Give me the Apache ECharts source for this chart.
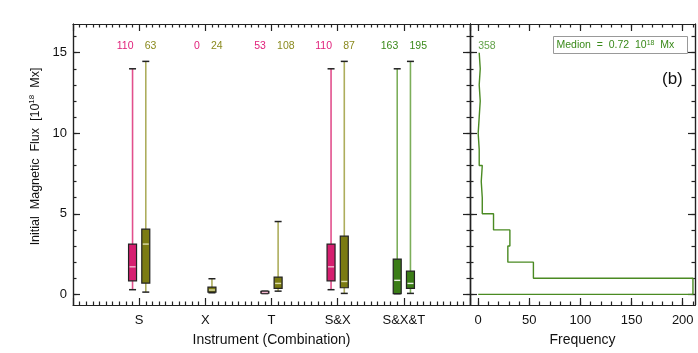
<!DOCTYPE html>
<html>
<head>
<meta charset="utf-8">
<script src="https://cdn.jsdelivr.net/npm/echarts@6/dist/echarts.min.js"></script>
<style>
  html, body { margin: 0; padding: 0; background: #fff; }
  #main { width: 698px; height: 353px; }
</style>
</head>
<body>
<div id="main"></div>
<script>
// data
var categories = ['S', 'X', 'T', 'S&X', 'S&X&T'];
// [low, q1, median, q3, high], null = no box
var firstStats = [
    [0.29, 0.84, 1.71, 3.12, 14.0],
    null,
    [0.05, 0.08, 0.12, 0.18, 0.2],
    [0.29, 0.84, 1.71, 3.12, 14.0],
    [0.04, 0.04, 0.87, 2.19, 14.0]
];
var secondStats = [
    [0.14, 0.70, 3.12, 4.05, 14.46],
    [0.1, 0.14, 0.27, 0.45, 0.97],
    [0.2, 0.37, 0.68, 1.07, 4.52],
    [0.06, 0.41, 0.80, 3.61, 14.46],
    [0.06, 0.37, 0.68, 1.44, 14.46]
];
var firstCounts = [110, 0, 53, 110, 163];
var secondCounts = [63, 24, 108, 87, 195];

// histogram of flux, bins of 1 (0-1, 1-2, ... 14-15)
var binCounts = [210, 54, 29, 31, 15, 4, 3, 4, 1, 0, 1, 2, 1, 2, 1];
var totalCount = 358;
var medianFlux = 0.72;

var fluxMajorTicks = [0, 5, 10, 15];
var fluxMinorTicks = [0, 1, 2, 3, 4, 5, 6, 7, 8, 9, 10, 11, 12, 13, 14, 15, 16];
var freqMajorTicks = [0, 50, 100, 150, 200];
var freqMinorTicks = [0, 10, 20, 30, 40, 50, 60, 70, 80, 90, 100, 110, 120, 130, 140, 150, 160, 170, 180, 190, 200, 210];

var yMin = -0.66, yMax = 16.78;
var countLabelY = 15.4;

var colPink = { fill: '#d61f70', whisk: '#e2508c', text: '#e0207a', med: '#f2b8cf' };
var colOlive = { fill: '#7b7b12', whisk: '#adad5c', text: '#8a8a1e', med: '#dcdcaa' };
var colGreen = { fill: '#3b7d17', whisk: '#7cae5a', text: '#3a8a1a', med: '#e8f0e0' };

function boxData(stats, counts, offset) {
    return categories.map(function (c, i) {
        var s = stats[i] || ['-', '-', '-', '-', '-'];
        return [i + 1 + offset, s[0], s[1], s[2], s[3], s[4], counts[i]];
    });
}

function makeRender(isFirst) {
    return function (params, api) {
        var idx = params.dataIndex;
        var col = idx === 4 ? colGreen : (isFirst ? colPink : colOlive);
        var x = api.value(0);
        var children = [];
        var lp = api.coord([x, countLabelY]);
        children.push({
            type: 'text',
            style: {
                x: lp[0] + (isFirst ? 1 : -1), y: lp[1],
                text: String(api.value(6)),
                fill: col.text,
                font: '10.5px "Liberation Sans", Arial, sans-serif',
                align: isFirst ? 'right' : 'left',
                verticalAlign: 'middle'
            }
        });
        var low = api.value(1);
        if (isNaN(low)) return { type: 'group', children: children };
        var pLow = api.coord([x, low]);
        var pQ1 = api.coord([x, api.value(2)]);
        var pMed = api.coord([x, api.value(3)]);
        var pQ3 = api.coord([x, api.value(4)]);
        var pHigh = api.coord([x, api.value(5)]);
        var cx = pLow[0];
        var hw = 4, cw = 3.5;
        children.push({
            type: 'line',
            shape: { x1: cx, y1: pHigh[1], x2: cx, y2: pLow[1] },
            style: { stroke: col.whisk, lineWidth: 1.6 }
        });
        children.push({
            type: 'line',
            shape: { x1: cx - cw, y1: pHigh[1], x2: cx + cw, y2: pHigh[1] },
            style: { stroke: '#222', lineWidth: 1.5 }
        });
        children.push({
            type: 'line',
            shape: { x1: cx - cw, y1: pLow[1], x2: cx + cw, y2: pLow[1] },
            style: { stroke: '#222', lineWidth: 1.5 }
        });
        children.push({
            type: 'rect',
            shape: { x: cx - hw, y: pQ3[1], width: hw * 2, height: Math.max(pQ1[1] - pQ3[1], 1.5) },
            style: { fill: col.fill, stroke: '#222', lineWidth: 1.2 }
        });
        children.push({
            type: 'line',
            shape: { x1: cx - hw + 1, y1: pMed[1], x2: cx + hw - 1, y2: pMed[1] },
            style: { stroke: col.med, lineWidth: 1.4 }
        });
        return { type: 'group', children: children };
    };
}

var histPoints = [[0, 0]];
binCounts.forEach(function (c, i) {
    histPoints.push([c, i]);
    histPoints.push([c, i + 1]);
});

var axisColor = '#222';
var fontFam = '"Liberation Sans", Arial, sans-serif';

function yAx(grid, pos, ticks, len, extra) {
    var a = {
        type: 'value', gridIndex: grid, position: pos, min: yMin, max: yMax,
        axisLine: { show: true, onZero: false, lineStyle: { color: axisColor, width: 1.2 } },
        axisTick: { show: true, inside: true, length: len, customValues: ticks, lineStyle: { color: axisColor, width: 1.2 } },
        axisLabel: { show: false },
        splitLine: { show: false }
    };
    return Object.assign(a, extra || {});
}

function xFreq(pos, ticks, len, extra) {
    var a = {
        type: 'value', gridIndex: 1, position: pos, min: -8, max: 212,
        axisLine: { show: true, onZero: false, lineStyle: { color: axisColor, width: 1.2 } },
        axisTick: { show: true, inside: true, length: len, customValues: ticks, lineStyle: { color: axisColor, width: 1.2 } },
        axisLabel: { show: false },
        splitLine: { show: false }
    };
    return Object.assign(a, extra || {});
}

function xCat(pos, extra) {
    var a = {
        type: 'value', gridIndex: 0, position: pos, min: 0, max: 6, interval: 1,
        axisLine: { show: true, onZero: false, lineStyle: { color: axisColor, width: 1.2 } },
        axisTick: { show: true, inside: true, length: 7, lineStyle: { color: axisColor, width: 1.2 } },
        minorTick: { show: true, splitNumber: 10, length: 3.5, lineStyle: { color: axisColor, width: 1.2 } },
        axisLabel: { show: false },
        splitLine: { show: false }
    };
    return Object.assign(a, extra || {});
}

var chart = echarts.init(document.getElementById('main'), null, { renderer: 'canvas' });

var option = {
    backgroundColor: '#fff',
    animation: false,
    grid: [
        { left: 73, top: 24, width: 397, height: 281 },
        { left: 470, top: 24, width: 225, height: 281 }
    ],
    xAxis: [
        xCat('bottom', {
            name: 'Instrument (Combination)', nameLocation: 'middle', nameGap: 28,
            nameTextStyle: { fontSize: 14, color: '#111', fontFamily: fontFam },
            axisLabel: {
                show: true, margin: 9, fontSize: 13, color: '#111', fontFamily: fontFam,
                showMinLabel: true, showMaxLabel: true,
                formatter: function (v) { return categories[v - 1] || ''; }
            }
        }),
        xCat('top'),
        xFreq('bottom', freqMajorTicks, 7, {
            name: 'Frequency', nameLocation: 'middle', nameGap: 28,
            nameTextStyle: { fontSize: 14, color: '#111', fontFamily: fontFam },
            axisLabel: {
                show: true, margin: 9, fontSize: 13, color: '#111', fontFamily: fontFam,
                customValues: freqMajorTicks
            }
        }),
        xFreq('bottom', freqMinorTicks, 3.5),
        xFreq('top', freqMajorTicks, 7),
        xFreq('top', freqMinorTicks, 3.5)
    ],
    yAxis: [
        yAx(0, 'left', fluxMajorTicks, 7, {
            name: 'Initial  Magnetic  Flux  [10{sup|18}  Mx]', nameLocation: 'middle', nameGap: 21, nameRotate: 90,
            nameTextStyle: {
                fontSize: 12.5, color: '#111', fontFamily: fontFam,
                padding: [0, 0, 0, 16],
                rich: { sup: { fontSize: 8, verticalAlign: 'bottom', padding: [0, 0, 6, 0], fontFamily: fontFam, color: '#111' } }
            },
            axisLabel: {
                show: true, margin: 6, fontSize: 13, color: '#111', fontFamily: fontFam,
                customValues: fluxMajorTicks
            }
        }),
        yAx(0, 'left', fluxMinorTicks, 3.5),
        yAx(0, 'right', fluxMajorTicks, 7),
        yAx(0, 'right', fluxMinorTicks, 3.5),
        yAx(1, 'left', fluxMajorTicks, 7),
        yAx(1, 'left', fluxMinorTicks, 3.5),
        yAx(1, 'right', fluxMajorTicks, 7),
        yAx(1, 'right', fluxMinorTicks, 3.5)
    ],
    series: [
        {
            type: 'custom', xAxisIndex: 0, yAxisIndex: 0,
            renderItem: makeRender(true),
            data: boxData(firstStats, firstCounts, -0.1),
            encode: { x: 0, y: [1, 2, 3, 4, 5] },
            clip: false, z: 3
        },
        {
            type: 'custom', xAxisIndex: 0, yAxisIndex: 0,
            renderItem: makeRender(false),
            data: boxData(secondStats, secondCounts, 0.1),
            encode: { x: 0, y: [1, 2, 3, 4, 5] },
            clip: false, z: 3
        },
        {
            type: 'line', xAxisIndex: 2, yAxisIndex: 4,
            data: histPoints,
            showSymbol: false, symbol: 'none',
            lineStyle: { color: '#4a8a22', width: 1.4 },
            clip: false, z: 3
        },
        {
            type: 'scatter', xAxisIndex: 2, yAxisIndex: 4,
            data: [[0, countLabelY]],
            symbolSize: 0,
            label: {
                show: true, position: 'inside', align: 'left',
                formatter: String(totalCount),
                color: colGreen.text, fontSize: 10.5, fontFamily: fontFam
            }
        }
    ],
    graphic: [
        {
            type: 'group', left: 553, top: 36,
            children: [
                {
                    type: 'rect', shape: { x: 0, y: 0, width: 134, height: 17 },
                    style: { fill: '#fff', stroke: '#999', lineWidth: 1 }
                },
                {
                    type: 'text', x: 3, y: 9,
                    style: {
                        text: 'Medion  =  ' + medianFlux.toFixed(2) + '  10{sup|18}  Mx',
                        fill: colGreen.text,
                        font: '10.5px ' + fontFam,
                        verticalAlign: 'middle',
                        rich: { sup: { fontSize: 7, fill: colGreen.text, padding: [0, 0, 5, 0], verticalAlign: 'bottom' } }
                    }
                }
            ]
        },
        {
            type: 'text', left: 662, top: 71,
            style: { text: '(b)', fill: '#111', font: '17px ' + fontFam }
        }
    ]
};

chart.setOption(option);
window.onresize = function () { chart.resize(); };
</script>
</body>
</html>
